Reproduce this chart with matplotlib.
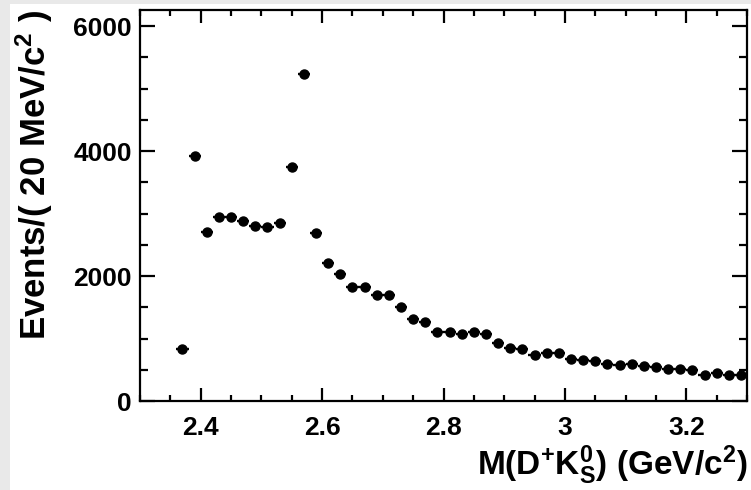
import numpy as np
import matplotlib
matplotlib.use("Agg")
import matplotlib.pyplot as plt
from matplotlib.patches import Rectangle
from matplotlib.ticker import MultipleLocator

# D+ K0S invariant mass spectrum, 20 MeV bins
mass = [2.37, 2.39, 2.41, 2.43, 2.45, 2.47, 2.49, 2.51, 2.53, 2.55,
        2.57, 2.59, 2.61, 2.63, 2.65, 2.67, 2.69, 2.71, 2.73, 2.75,
        2.77, 2.79, 2.81, 2.83, 2.85, 2.87, 2.89, 2.91, 2.93, 2.95,
        2.97, 2.99, 3.01, 3.03, 3.05, 3.07, 3.09, 3.11, 3.13, 3.15,
        3.17, 3.19, 3.21, 3.23, 3.25, 3.27, 3.29]
events = [840, 3930, 2700, 2940, 2950, 2885, 2795, 2780, 2845, 3740,
          5235, 2685, 2205, 2030, 1830, 1830, 1700, 1700, 1500, 1305,
          1260, 1105, 1105, 1075, 1105, 1065, 935, 845, 835, 740,
          770, 775, 665, 655, 635, 585, 570, 590, 560, 540,
          510, 510, 490, 415, 450, 415, 415]
bin_half_width = 0.01
x_ticks = [2.4, 2.6, 2.8, 3.0, 3.2]
x_tick_labels = ["2.4", "2.6", "2.8", "3", "3.2"]
y_ticks = [0, 2000, 4000, 6000]

plt.rcParams["font.family"] = ["Liberation Sans", "DejaVu Sans"]
plt.rcParams["font.weight"] = "bold"
plt.rcParams["mathtext.default"] = "regular"

W, H = 751, 490
fig = plt.figure(figsize=(W / 100, H / 100), dpi=100, facecolor="#e9e9e9")
fig.patches.append(Rectangle((10 / W, 0), 1, 1 - 4 / H, transform=fig.transFigure,
                             facecolor="white", edgecolor="none", zorder=-10))

ax = fig.add_axes([140 / W, 1 - 401 / H, 607 / W, 391 / H])
ax.set_zorder(5)
ax.set_facecolor("white")

yerr = np.sqrt(np.array(events, dtype=float))
ax.errorbar(mass, events, xerr=bin_half_width, yerr=yerr, fmt="o", color="black",
            ms=6.5, elinewidth=1.7, capsize=0, zorder=3)

ax.set_xlim(2.30, 3.30)
ax.set_ylim(0, 6260)
ax.set_xticks(x_ticks)
ax.set_xticklabels(x_tick_labels)
ax.set_yticks(y_ticks)
ax.xaxis.set_minor_locator(MultipleLocator(0.05))
ax.yaxis.set_minor_locator(MultipleLocator(500))

for s in ax.spines.values():
    s.set_linewidth(1.6)

ax.tick_params(axis="both", which="both", direction="in", top=True, right=True,
               width=1.6, labelsize=19, colors="black")
ax.tick_params(axis="x", which="major", length=9.5, pad=11)
ax.tick_params(axis="x", which="minor", length=4.5)
ax.tick_params(axis="y", which="major", length=11, pad=6)
ax.tick_params(axis="y", which="minor", length=5.5)
for lbl in ax.get_xticklabels() + ax.get_yticklabels():
    lbl.set_fontweight("bold")

ax.set_ylabel(r"Events/( 20 MeV/c$^{2}$ )", fontsize=25, fontweight="bold",
              loc="top", labelpad=13)
ax.set_xlabel(r"M(D$^{+}$K$_{S}^{0}$) (GeV/c$^{2}$)", fontsize=24,
              fontweight="bold", loc="right", labelpad=2)

fig.text(523 / W, 1 - 71 / H, "LHCb", fontsize=19, fontweight="bold",
         ha="left", va="baseline")
fig.text(523 / W, 1 - 96 / H, "Preliminary", fontsize=19, fontweight="bold",
         ha="left", va="baseline")
fig.text(518 / W, 1 - 131 / H, "\u221as = 7 TeV Data", fontsize=11.5,
         fontweight="bold", ha="left", va="baseline")

fig.savefig("out.png", dpi=100, facecolor=fig.get_facecolor())
